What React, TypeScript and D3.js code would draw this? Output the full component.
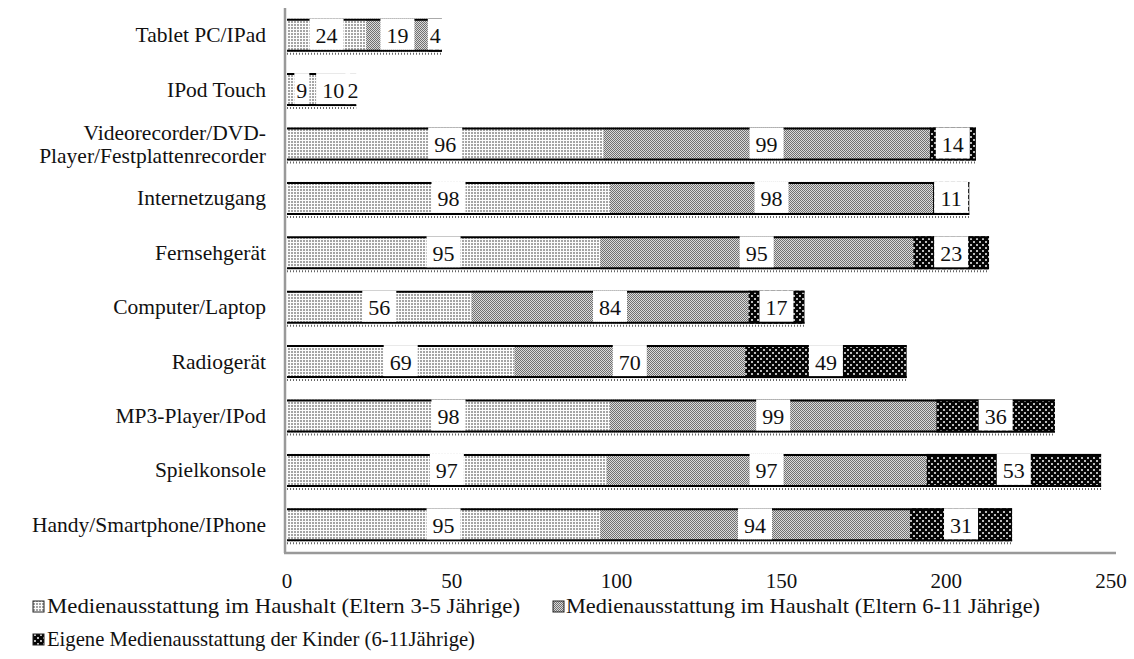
import React, { useRef, useEffect } from 'react';
import * as d3 from 'd3';

const categories = [
  'Tablet PC/IPad',
  'IPod Touch',
  'Videorecorder/DVD-\nPlayer/Festplattenrecorder',
  'Internetzugang',
  'Fernsehgerät',
  'Computer/Laptop',
  'Radiogerät',
  'MP3-Player/IPod',
  'Spielkonsole',
  'Handy/Smartphone/IPhone',
];

const eltern35 = [24, 9, 96, 98, 95, 56, 69, 98, 97, 95];
const eltern611 = [19, 10, 99, 98, 95, 84, 70, 99, 97, 94];
const kinder611 = [4, 2, 14, 11, 23, 17, 49, 36, 53, 31];

const seriesNames = [
  'Medienausstattung im Haushalt (Eltern 3-5 Jährige)',
  'Medienausstattung im Haushalt (Eltern 6-11 Jährige)',
  'Eigene Medienausstattung der Kinder (6-11Jährige)',
];

const xTicks = [0, 50, 100, 150, 200, 250];

const FONT = '"Liberation Serif", "Times New Roman", serif';
const W = 1134;
const H = 659;

export default function App() {
  const svgRef = useRef<SVGSVGElement>(null);

  useEffect(() => {
    document.body.style.margin = '0';
    if (!svgRef.current) return;
    const root = d3.select(svgRef.current);
    root.selectAll('*').remove();

    // hatch patterns like the printed original
    const defs = root.append('defs');
    const p1 = defs.append('pattern').attr('id', 'p1').attr('patternUnits', 'userSpaceOnUse').attr('width', 3).attr('height', 3);
    p1.append('rect').attr('width', 3).attr('height', 3).attr('fill', '#fcfcfc');
    p1.append('rect').attr('width', 2).attr('height', 2).attr('fill', '#a4a4a4');

    const p2 = defs.append('pattern').attr('id', 'p2').attr('patternUnits', 'userSpaceOnUse').attr('width', 2).attr('height', 2);
    p2.append('rect').attr('width', 2).attr('height', 2).attr('fill', '#dadada');
    p2.append('rect').attr('width', 1).attr('height', 1).attr('fill', '#707070');
    p2.append('rect').attr('x', 1).attr('y', 1).attr('width', 1).attr('height', 1).attr('fill', '#707070');

    const p3 = defs.append('pattern').attr('id', 'p3').attr('patternUnits', 'userSpaceOnUse').attr('width', 6).attr('height', 6);
    p3.append('rect').attr('width', 6).attr('height', 6).attr('fill', '#050505');
    p3.append('rect').attr('x', 1).attr('y', 1).attr('width', 2).attr('height', 2).attr('fill', '#bbb');
    p3.append('rect').attr('x', 4).attr('y', 4).attr('width', 2).attr('height', 2).attr('fill', '#bbb');

    const fills = ['url(#p1)', 'url(#p2)', 'url(#p3)'];

    const x = d3.scaleLinear().domain([0, 250]).range([287, 1111]);
    const y = d3.scaleBand().domain(categories).range([8, 552]).paddingInner(0.393).paddingOuter(0.1965);
    const bh = y.bandwidth();

    const rows = categories.map((c, i) => ({ c, vals: [eltern35[i], eltern611[i], kinder611[i]] }));

    // axis lines
    root.append('line').attr('x1', 285).attr('x2', 285).attr('y1', 8).attr('y2', 553)
      .attr('stroke', '#999').attr('stroke-width', 2.5);
    root.append('line').attr('x1', 284).attr('x2', 1116).attr('y1', 553).attr('y2', 553)
      .attr('stroke', '#999').attr('stroke-width', 2.5);

    const g = root.append('g');

    rows.forEach((r) => {
      const y0 = y(r.c) || 0;
      let acc = 0;
      const segs = r.vals.map((v, s) => {
        const seg = { s, v, start: acc, end: acc + v };
        acc += v;
        return seg;
      });
      const row = g.append('g');
      row.selectAll('rect.seg').data(segs).enter().append('rect')
        .attr('class', 'seg')
        .attr('x', (d) => x(d.start))
        .attr('y', y0)
        .attr('width', (d) => x(d.end) - x(d.start))
        .attr('height', bh)
        .attr('fill', (d) => fills[d.s]);
      // top and bottom borders + dotted shadow
      row.append('line').attr('x1', x(0)).attr('x2', x(acc)).attr('y1', y0 + 1).attr('y2', y0 + 1)
        .attr('stroke', '#000').attr('stroke-width', 2);
      row.append('line').attr('x1', x(0)).attr('x2', x(acc)).attr('y1', y0 + bh - 1).attr('y2', y0 + bh - 1)
        .attr('stroke', '#000').attr('stroke-width', 2);
      row.append('line').attr('x1', x(0)).attr('x2', x(acc)).attr('y1', y0 + bh + 2).attr('y2', y0 + bh + 2)
        .attr('stroke', '#666').attr('stroke-width', 2).attr('stroke-dasharray', '1,2');

      // value labels in white boxes (boxes first, then text on top)
      const boxW = (v: number) => (String(v).length > 1 ? String(v).length * 11 + 12 : 15);
      const mid = (d: { start: number; end: number }) => x((d.start + d.end) / 2);
      row.selectAll('rect.lblbox').data(segs).enter().append('rect')
        .attr('class', 'lblbox')
        .attr('x', (d) => mid(d) - boxW(d.v) / 2)
        .attr('y', y0)
        .attr('width', (d) => boxW(d.v))
        .attr('height', bh - 2)
        .attr('fill', '#fff');
      row.selectAll('text.lbl').data(segs).enter().append('text')
        .attr('class', 'lbl')
        .attr('x', (d) => mid(d))
        .attr('y', y0 + bh / 2 + 8)
        .attr('text-anchor', 'middle')
        .attr('font-family', FONT)
        .attr('font-size', 22)
        .attr('fill', '#111')
        .text((d) => d.v);
    });

    // category labels
    rows.forEach((r) => {
      const cy = (y(r.c) || 0) + bh / 2;
      const lines = r.c.split('\n');
      const t = root.append('text')
        .attr('text-anchor', 'end')
        .attr('font-family', FONT)
        .attr('font-size', 21.5)
        .attr('fill', '#111');
      lines.forEach((ln, k) => {
        t.append('tspan')
          .attr('x', 266)
          .attr('y', cy + 7 + (k - (lines.length - 1) / 2) * 23)
          .text(ln);
      });
    });

    // x tick labels
    root.selectAll('text.tick').data(xTicks).enter().append('text')
      .attr('class', 'tick')
      .attr('x', (d) => x(d))
      .attr('y', 588)
      .attr('text-anchor', 'middle')
      .attr('font-family', FONT)
      .attr('font-size', 21)
      .attr('fill', '#111')
      .text((d) => d);

    // legend
    const legendPos = [
      { ix: 33, iy: 601, tx: 47, len: 473 },
      { ix: 553, iy: 601, tx: 566, len: 474 },
      { ix: 33, iy: 634, tx: 47, len: 428 },
    ];
    seriesNames.forEach((name, i) => {
      const p = legendPos[i];
      root.append('rect').attr('x', p.ix).attr('y', p.iy).attr('width', 11).attr('height', 11)
        .attr('fill', fills[i]).attr('stroke', '#222').attr('stroke-width', 1);
      root.append('text')
        .attr('x', p.tx)
        .attr('y', p.iy + 12)
        .attr('font-family', FONT)
        .attr('font-size', 21)
        .attr('fill', '#111')
        .attr('textLength', p.len)
        .attr('lengthAdjust', 'spacingAndGlyphs')
        .text(name);
    });
  }, []);

  return <svg ref={svgRef} width={W} height={H} style={{ display: 'block', background: '#fff' }} />;
}
